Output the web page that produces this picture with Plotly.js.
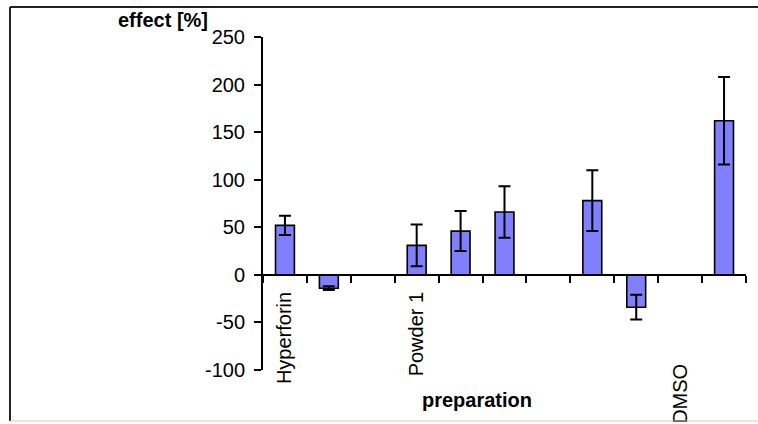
<!DOCTYPE html>
<html>
<head>
<meta charset="utf-8">
<script src="https://cdn.plot.ly/plotly-3.0.1.min.js"></script>
<style>html,body{margin:0;padding:0;background:#fff;}</style>
</head>
<body>
<div id="chart" style="width:758px;height:424px;"></div>
<script>
// categories (position index) and values
var positions = [1, 2, 3, 4, 5, 6, 7, 8, 9, 10, 11];
var effect    = [52, -14, null, 31, 46, 66, null, 78, -34, null, 162];
var errors    = [10, 2, null, 22, 21, 27, null, 32, 13, null, 46];
var labelPos  = [1, 4];
var labelText = ['Hyperforin', 'Powder 1'];
var lowLabelPos  = [10];
var lowLabelText = ['DMSO'];
var boundaryTicks = [0.5, 1.5, 2.5, 3.5, 4.5, 5.5, 6.5, 7.5, 8.5, 9.5, 10.5, 11.5];
var yTicks = [-100, -50, 0, 50, 100, 150, 200, 250];
var yTickText = ['-100', '-50', '0', '50', '100', '150', '200', '250'];

var font = 'Liberation Sans, Arial, sans-serif';
var yMin = -100, yMax = 250;
var zeroPos = (0 - yMin) / (yMax - yMin);
var fs = 20;

var trace = {
  type: 'bar',
  x: positions,
  y: effect,
  width: 0.43,
  marker: {color: '#8080FF', line: {color: '#000', width: 1.6}},
  error_y: {type: 'data', array: errors, visible: true, color: '#000', thickness: 2, width: 6},
  hoverinfo: 'skip',
  showlegend: false
};
var dummy2 = {type: 'scatter', x: [1], y: [null], xaxis: 'x2', yaxis: 'y', showlegend: false, hoverinfo: 'skip'};
var dummy3 = {type: 'scatter', x: [1], y: [null], xaxis: 'x3', yaxis: 'y', showlegend: false, hoverinfo: 'skip'};

var layout = {
  width: 758, height: 424,
  margin: {l: 263, r: 12, t: 37, b: 54},
  paper_bgcolor: '#fff', plot_bgcolor: 'rgba(0,0,0,0)',
  font: {family: font, size: fs, color: '#000'},
  xaxis: {
    range: [0.5, 11.5],
    anchor: 'free', position: zeroPos,
    showline: true, linecolor: '#000', linewidth: 2,
    tickmode: 'array', tickvals: boundaryTicks, ticktext: boundaryTicks.map(function(){return '';}),
    ticks: 'outside', ticklen: 7, tickwidth: 2, tickcolor: '#000',
    showgrid: false, zeroline: false, fixedrange: true
  },
  xaxis2: {
    range: [0.5, 11.5], overlaying: 'x',
    anchor: 'free', position: zeroPos,
    showline: false, ticks: '', showgrid: false, zeroline: false,
    tickmode: 'array', tickvals: labelPos, ticktext: labelText,
    tickangle: -90, ticklabelstandoff: 12,
    tickfont: {family: font, size: fs, color: '#000'}
  },
  xaxis3: {
    range: [0.5, 11.5], overlaying: 'x',
    anchor: 'free', position: zeroPos,
    showline: false, ticks: '', showgrid: false, zeroline: false,
    tickmode: 'array', tickvals: lowLabelPos, ticktext: lowLabelText,
    tickangle: -90, ticklabelstandoff: 84,
    tickfont: {family: font, size: fs, color: '#000'}
  },
  yaxis: {
    range: [yMin, yMax],
    showline: true, linecolor: '#000', linewidth: 2,
    tickmode: 'array', tickvals: yTicks, ticktext: yTickText,
    ticks: 'outside', ticklen: 7, tickwidth: 2, tickcolor: '#000',
    showgrid: false, zeroline: false, fixedrange: true,
    tickfont: {family: font, size: fs, color: '#000'},
    ticklabelstandoff: 5
  },
  annotations: [
    {text: '<b>effect [%]</b>', xref: 'paper', yref: 'paper', x: (210 - 263) / 483, y: 1 + 17 / 333,
     xanchor: 'right', yanchor: 'middle', showarrow: false, font: {family: font, size: fs, color: '#000'}},
    {text: '<b>preparation</b>', xref: 'paper', yref: 'paper', x: (477 - 263) / 483, y: -30 / 333,
     xanchor: 'center', yanchor: 'middle', showarrow: false, font: {family: font, size: fs, color: '#000'}}
  ],
  shapes: [
    {type: 'line', xref: 'paper', yref: 'paper', x0: (10 - 263) / 483, x1: (758 - 263) / 483, y0: 1 + 30 / 333, y1: 1 + 30 / 333, line: {color: '#222', width: 2}},
    {type: 'line', xref: 'paper', yref: 'paper', x0: (10 - 263) / 483, x1: (10 - 263) / 483, y0: 1 + 30 / 333, y1: -51 / 333, line: {color: '#222', width: 2}},
    {type: 'line', xref: 'paper', yref: 'paper', x0: (10 - 263) / 483, x1: (758 - 263) / 483, y0: -51 / 333, y1: -51 / 333, line: {color: '#ccc', width: 1}}
  ]
};

Plotly.newPlot('chart', [trace, dummy2, dummy3], layout, {displayModeBar: false, staticPlot: true});
</script>
</body>
</html>
